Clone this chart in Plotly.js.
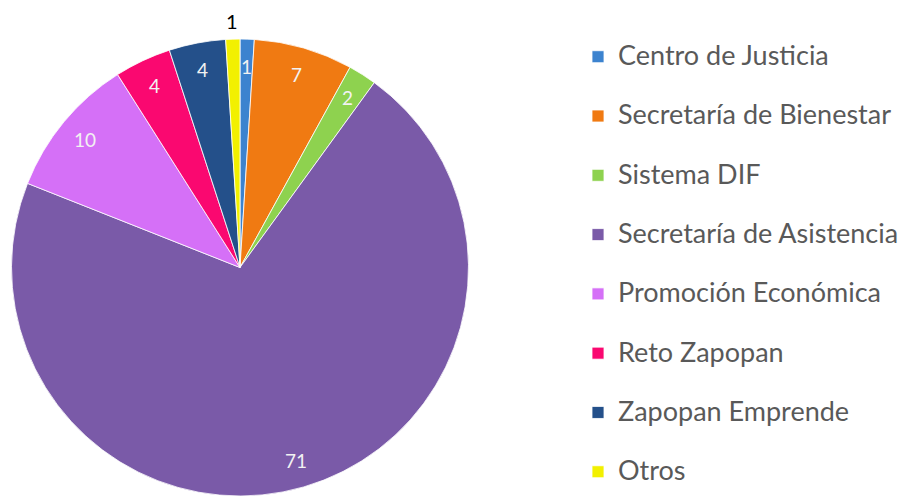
<!DOCTYPE html>
<html>
<head>
<meta charset="utf-8">
<script src="https://cdn.plot.ly/plotly-3.0.1.min.js"></script>
<style>html,body{margin:0;padding:0;background:#fff;}#chart{width:904px;height:496px;}</style>
</head>
<body>
<div id="chart"></div>
<script>
const categories = ["Centro de Justicia", "Secretaría de Bienestar", "Sistema DIF", "Secretaría de Asistencia", "Promoción Económica", "Reto Zapopan", "Zapopan Emprende", "Otros"];
const values = [1, 7, 2, 71, 10, 4, 4, 1];
const colors = ["#3C83CF", "#F07A12", "#8ED24F", "#7A5AA8", "#D570F7", "#FA0870", "#24508A", "#F2F000"];
const labelOutside = [false, false, false, false, false, false, false, true];

const W = 904, H = 496;
const domX = [10 / W, 470 / W];
const domY = [0, 457 / H];
// pie geometry derived from domain
const cx = (domX[0] + domX[1]) / 2 * W;
const rad = Math.min((domX[1] - domX[0]) * W, (domY[1] - domY[0]) * H) / 2;
const cy = H - (domY[0] + domY[1]) / 2 * H;

const total = values.reduce((a, b) => a + b, 0);
let cum = 0;
const annotations = values.map((v, i) => {
  const mid = (cum + v / 2) / total * 2 * Math.PI;
  cum += v;
  const rr = labelOutside[i] ? rad * 1.08 : rad * 0.88;
  const px = cx + rr * Math.sin(mid);
  const py = cy - rr * Math.cos(mid);
  return {
    xref: 'paper', yref: 'paper', x: px / W, y: 1 - py / H,
    xanchor: 'center', yanchor: 'middle', showarrow: false,
    text: String(v),
    font: {family: 'Lato, "Open Sans", sans-serif', size: labelOutside[i] ? 20 : 19, color: labelOutside[i] ? '#000000' : '#F2F2F2'}
  };
});

const trace = {
  type: 'pie',
  labels: categories.map(c => ' <br><span style="font-size:27px">' + c + '</span>'),
  values: values,
  sort: false,
  direction: 'clockwise',
  rotation: 0,
  textinfo: 'none',
  hoverinfo: 'value',
  marker: {colors: colors, line: {color: '#FFFFFF', width: 0.8}},
  domain: {x: domX, y: domY}
};

const layout = {
  width: W, height: H,
  margin: {l: 0, r: 0, t: 0, b: 0},
  paper_bgcolor: '#FFFFFF',
  showlegend: true,
  legend: {
    x: 578 / W, xanchor: 'left',
    y: 1 - 8 / H, yanchor: 'top',
    valign: 'bottom',
    font: {family: 'Lato, "Open Sans", sans-serif', size: 21.65, color: '#595959'},
    bgcolor: 'rgba(0,0,0,0)'
  },
  annotations: annotations
};

Plotly.newPlot('chart', [trace], layout, {displayModeBar: false});
</script>
</body>
</html>
